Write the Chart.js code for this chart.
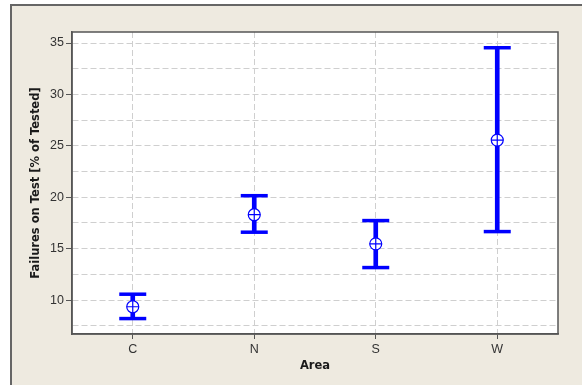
<!DOCTYPE html>
<html><head><meta charset="utf-8">
<script src="https://cdn.jsdelivr.net/npm/chart.js@4"></script>
<style>
html,body{margin:0;padding:0;background:#fff;width:582px;height:385px;overflow:hidden;}
#frame{position:absolute;left:10px;top:4px;width:620px;height:420px;background:#eeeae0;border:2px solid #666666;}
#wrap{position:absolute;left:0;top:0;width:582px;height:385px;}
</style></head><body>
<div id="frame"></div>
<div id="wrap"><canvas id="c" width="582" height="385"></canvas></div>
<script>
const categories = ['C', 'N', 'S', 'W'];
const means = [9.35, 18.3, 15.47, 25.56];
const lowerLimits = [8.2, 16.6, 13.16, 16.66];
const upperLimits = [10.57, 20.15, 17.73, 34.54];
const yTickValues = [7.5, 10, 12.5, 15, 17.5, 20, 22.5, 25, 27.5, 30, 32.5, 35];
const yMin = 6.7, yMax = 36.07;

const BLUE = '#0000ff';
const tickFont = {family: '"Liberation Sans Narrow", "Arial Narrow", Arial, sans-serif', size: 12.5};
const titleFont = {family: '"DejaVu Sans", Verdana, sans-serif', size: 11.5, weight: 'bold'};

const areaPlugin = {
  id: 'area',
  beforeDraw(chart) {
    const a = chart.chartArea, ctx = chart.ctx;
    ctx.save(); ctx.fillStyle = '#ffffff';
    ctx.fillRect(a.left, a.top, a.right - a.left, a.bottom - a.top);
    ctx.restore();
  },
  afterDraw(chart) {
    const a = chart.chartArea, ctx = chart.ctx;
    ctx.save(); ctx.strokeStyle = '#555555'; ctx.lineWidth = 1.5;
    ctx.strokeRect(a.left, a.top, a.right - a.left, a.bottom - a.top);
    ctx.restore();
  }
};

new Chart(document.getElementById('c'), {
  type: 'bar',
  data: {
    labels: categories,
    datasets: [
      {type: 'line', data: means, showLine: false, order: 0,
       pointStyle: 'cross', pointRadius: 6, pointBorderColor: BLUE, pointBorderWidth: 1.2, pointBackgroundColor: BLUE},
      {type: 'line', data: means, showLine: false, order: 1,
       pointStyle: 'circle', pointRadius: 6, pointBorderColor: BLUE, pointBorderWidth: 1.2, pointBackgroundColor: '#ffffff'},
      {type: 'line', data: upperLimits, showLine: false, order: 2,
       pointStyle: 'line', pointRadius: 13.5, pointBorderColor: BLUE, pointBorderWidth: 3.5},
      {type: 'line', data: lowerLimits, showLine: false, order: 2,
       pointStyle: 'line', pointRadius: 13.5, pointBorderColor: BLUE, pointBorderWidth: 3.5},
      {type: 'bar', data: lowerLimits.map((l, i) => [l, upperLimits[i]]), order: 3,
       barThickness: 4, backgroundColor: BLUE, borderWidth: 0}
    ]
  },
  options: {
    responsive: false,
    devicePixelRatio: 1,
    animation: false,
    events: [],
    layout: {padding: {top: 32, right: 24, left: 0, bottom: 0}},
    plugins: {legend: {display: false}, tooltip: {enabled: false}},
    scales: {
      x: {
        type: 'category', offset: true,
        grid: {offset: false, color: '#cfcfcf', lineWidth: 1, tickColor: '#555555', tickLength: 5, tickBorderDash: [], tickWidth: 1},
        border: {display: true, color: '#555555', width: 1.5, dash: [6, 3]},
        ticks: {font: tickFont, color: '#333333', padding: 3, autoSkip: false, maxRotation: 0},
        title: {display: true, text: 'Area', font: titleFont, color: '#1a1a1a', padding: {top: 12, bottom: 12}},
        afterFit(s) { s.height = 51; }
      },
      y: {
        type: 'linear', min: yMin, max: yMax,
        afterBuildTicks(s) { s.ticks = yTickValues.map(v => ({value: v})); },
        grid: {color: '#cfcfcf', lineWidth: 1, tickLength: 6, tickBorderDash: [], tickWidth: 1,
          tickColor: ctx => (ctx.tick && ctx.tick.value % 5 === 0) ? '#555555' : 'rgba(0,0,0,0)'},
        border: {display: true, color: '#555555', width: 1.5, dash: [6, 3]},
        ticks: {font: tickFont, color: '#333333', padding: 2, autoSkip: false,
          callback: v => (v % 5 === 0) ? String(v) : ''},
        title: {display: true, text: 'Failures on Test [% of Tested]', font: titleFont, color: '#1a1a1a', padding: {top: 29, bottom: 29}},
        afterFit(s) { s.width = 72; }
      }
    }
  },
  plugins: [areaPlugin]
});
</script>
</body></html>
